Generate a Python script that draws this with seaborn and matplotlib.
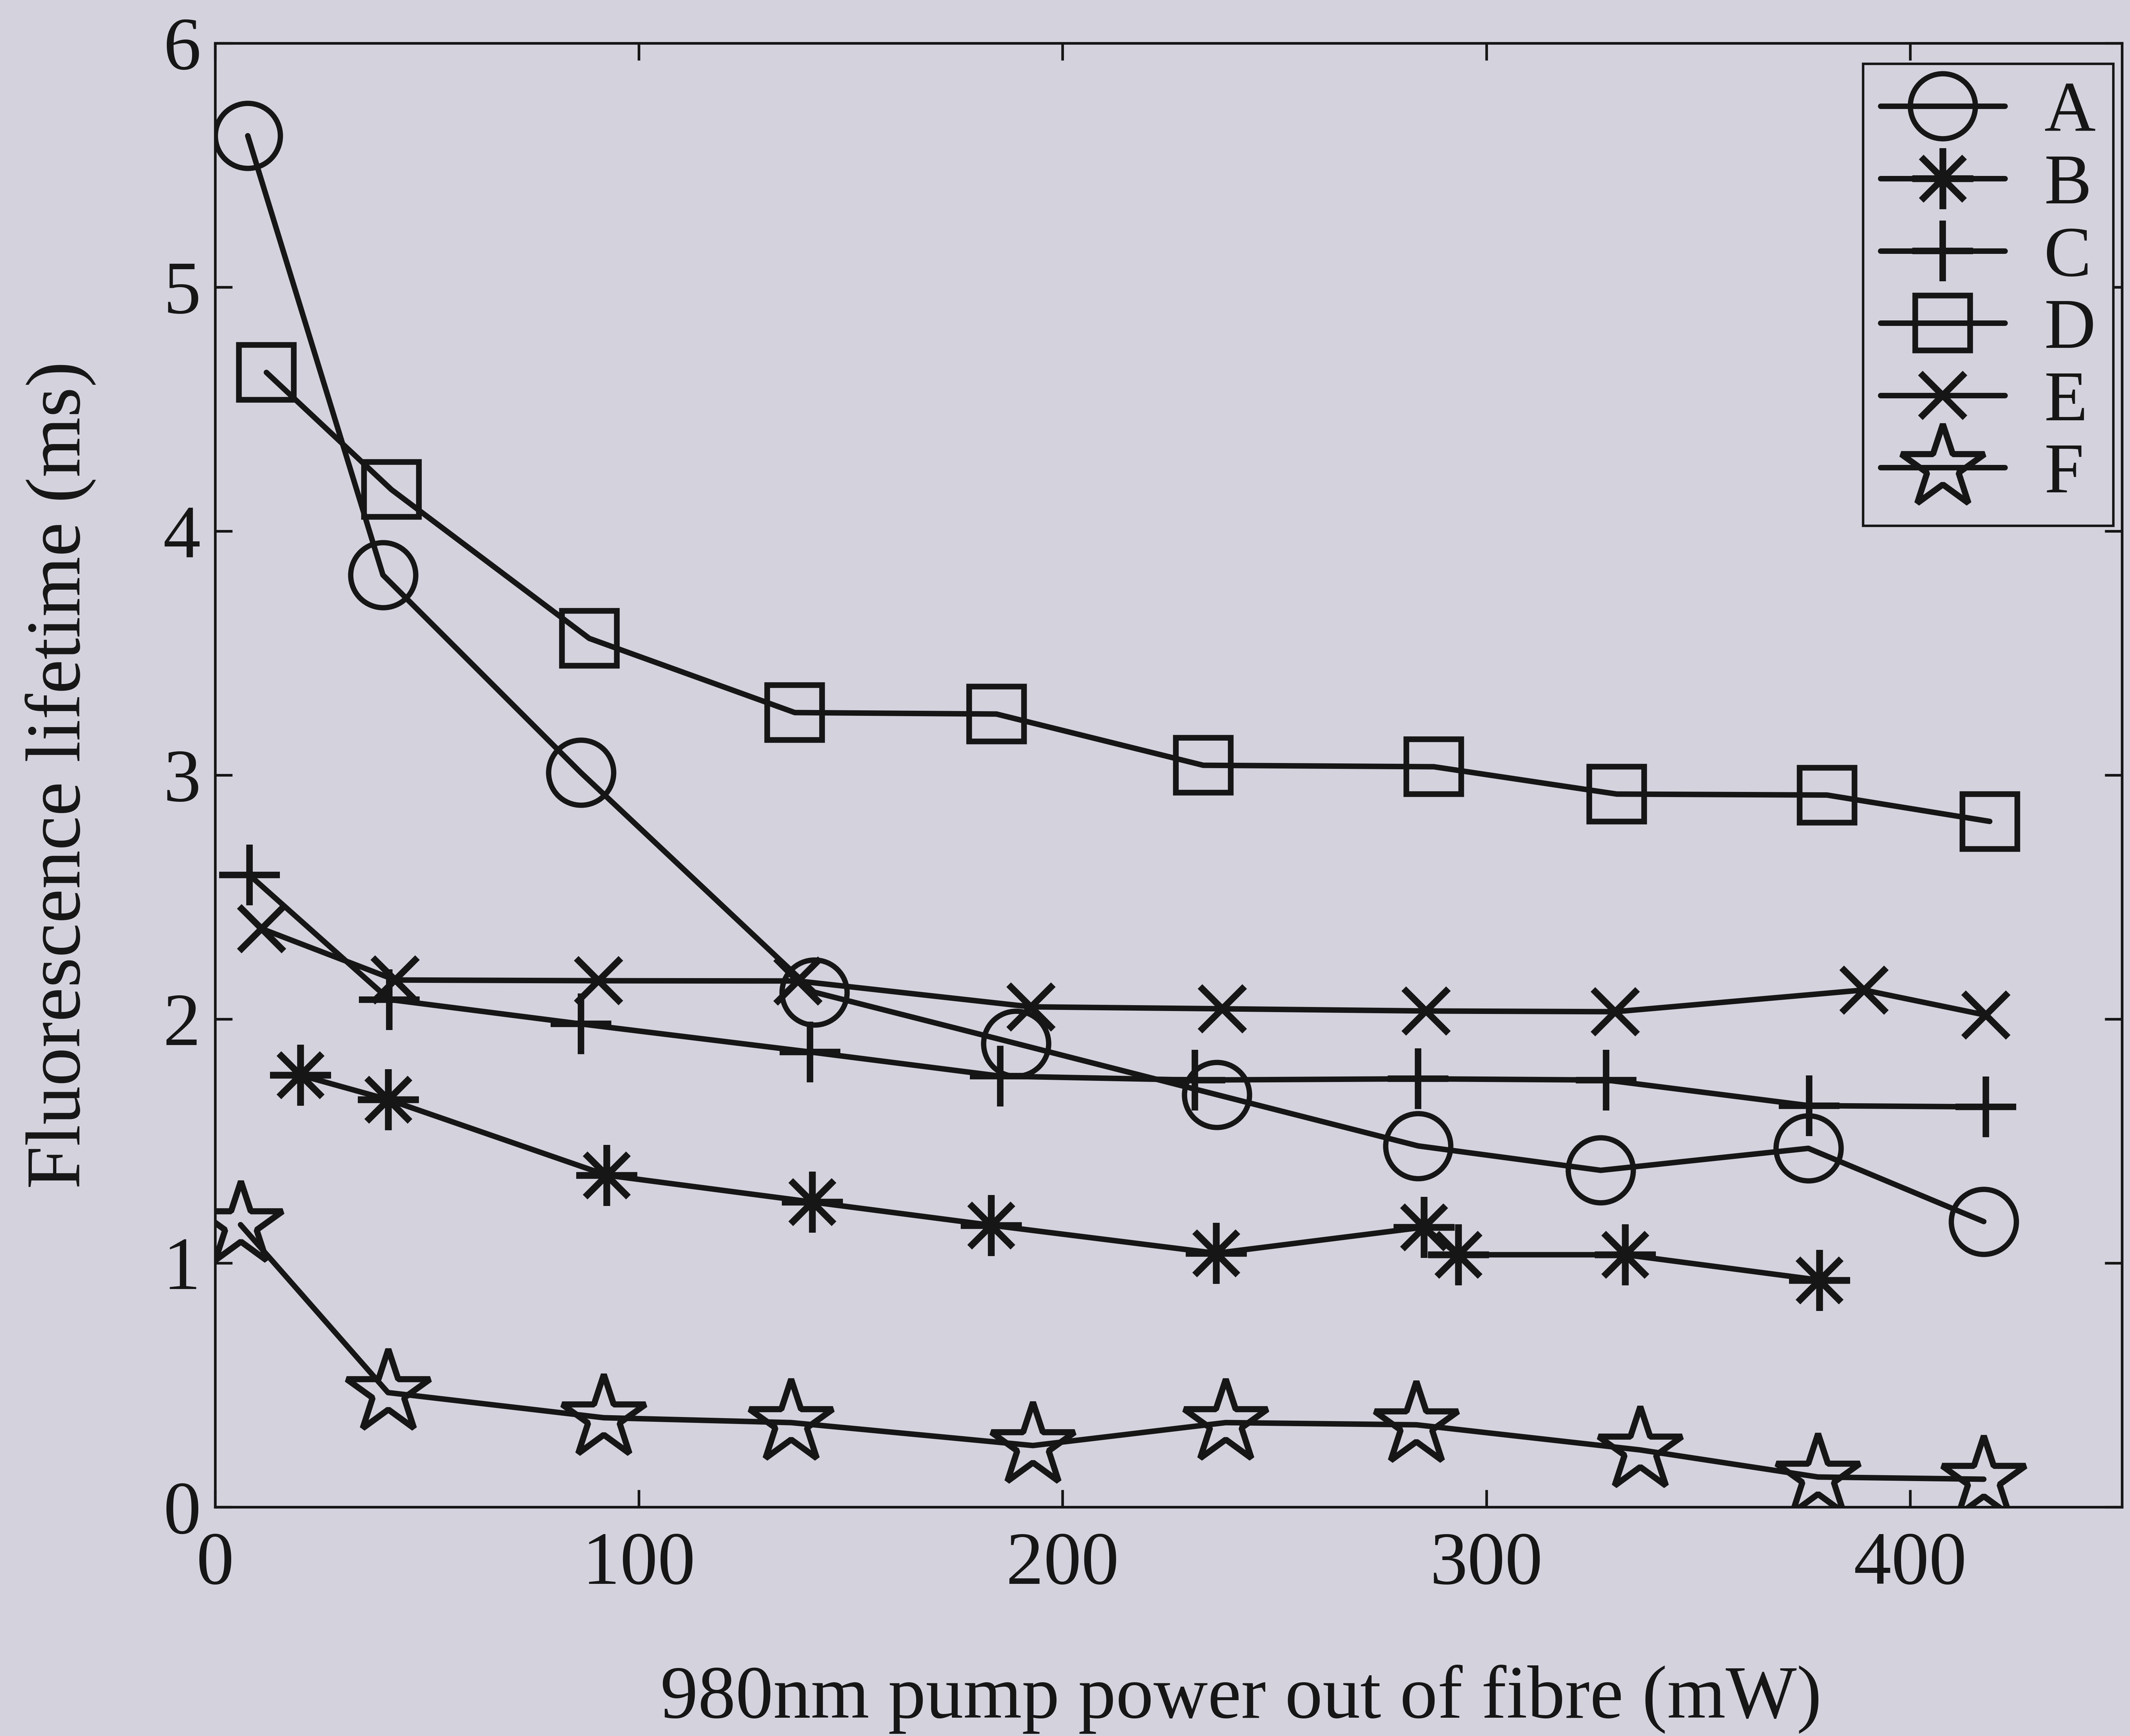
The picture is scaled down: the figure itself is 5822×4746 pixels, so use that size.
import matplotlib
matplotlib.use("Agg")
import matplotlib.pyplot as plt
import seaborn as sns

# Pump power (mW) and measured fluorescence lifetime (ms) for each sample
power_A = [7.7, 39.6, 86.3, 141.4, 189.0, 236.4, 283.9, 327.0, 376.0, 417.4]
life_A = [5.62, 3.82, 3.01, 2.11, 1.90, 1.69, 1.48, 1.38, 1.47, 1.17]

power_B = [20.1, 40.8, 92.4, 140.9, 183.1, 236.2, 285.3, 293.4, 332.8, 378.6]
life_B = [1.77, 1.67, 1.36, 1.25, 1.155, 1.04, 1.147, 1.034, 1.034, 0.93]

power_C = [8.1, 41.1, 86.3, 140.4, 185.3, 231.2, 283.9, 328.3, 376.2, 417.9]
life_C = [2.59, 2.08, 1.98, 1.865, 1.766, 1.75, 1.755, 1.75, 1.645, 1.64]

power_D = [12.1, 41.6, 88.3, 136.8, 184.4, 233.2, 287.6, 330.8, 380.4, 418.8]
life_D = [4.65, 4.17, 3.56, 3.256, 3.25, 3.04, 3.034, 2.922, 2.918, 2.81]

power_E = [11.0, 42.5, 90.5, 137.5, 192.5, 237.7, 285.8, 330.4, 389.1, 417.9]
life_E = [2.37, 2.16, 2.157, 2.156, 2.05, 2.042, 2.033, 2.03, 2.119, 2.016]

power_F = [6.0, 40.8, 91.7, 135.9, 193.0, 238.5, 283.5, 336.3, 378.3, 417.4]
life_F = [1.157, 0.469, 0.366, 0.346, 0.252, 0.346, 0.337, 0.234, 0.123, 0.114]

series_names = ["A", "B", "C", "D", "E", "F"]
x_ticks = [0, 100, 200, 300, 400]
y_ticks = [0, 1, 2, 3, 4, 5, 6]

paper = "#d3d2dd"
ink = "#161616"

sns.set_theme(style="ticks")
plt.rcParams["font.family"] = ["Liberation Serif", "DejaVu Serif"]
plt.rcParams["mathtext.fontset"] = "stix"

fig = plt.figure(figsize=(14.555, 11.865), dpi=400, facecolor=paper)
ax = fig.add_axes([0.101, 0.1319, 0.8952, 0.8433])
ax.set_facecolor(paper)

# marker, size, edge width per series
styles = {
    "A": dict(marker="o", ms=32, mew=2.6),
    "B": dict(marker=(8, 2, 0), ms=30, mew=3.2),
    "C": dict(marker="+", ms=30, mew=3.2),
    "D": dict(marker="s", ms=27, mew=2.8),
    "E": dict(marker="x", ms=22, mew=3.2),
    "F": dict(marker="*", ms=43, mew=3.0),
}
data = {
    "A": (power_A, life_A),
    "B": (power_B, life_B),
    "C": (power_C, life_C),
    "D": (power_D, life_D),
    "E": (power_E, life_E),
    "F": (power_F, life_F),
}

for name in series_names:
    xs, ys = data[name]
    st = styles[name]
    sns.lineplot(
        x=xs, y=ys, ax=ax, estimator=None, errorbar=None, sort=False,
        color=ink, linewidth=2.7, label=name,
        marker=st["marker"], markersize=st["ms"],
        markeredgewidth=st["mew"], markeredgecolor=ink,
        markerfacecolor="none", fillstyle="none",
    )

ax.set_xlim(0, 450)
ax.set_ylim(0, 6)
ax.set_xticks(x_ticks)
ax.set_yticks(y_ticks)
ax.set_xticklabels([str(v) for v in x_ticks])
ax.set_yticklabels([str(v) for v in y_ticks])

for side in ["left", "right", "top", "bottom"]:
    ax.spines[side].set_visible(True)
    ax.spines[side].set_color(ink)
    ax.spines[side].set_linewidth(1.3)

ax.tick_params(axis="both", which="major", direction="in", length=8.5,
               width=1.3, color=ink, labelcolor=ink, labelsize=37,
               top=True, right=True)
ax.tick_params(axis="x", pad=12)
ax.tick_params(axis="y", pad=7)

ax.set_xlabel("980nm pump power out of fibre (mW)", fontsize=37,
              color=ink, labelpad=32, x=0.538)
ax.set_ylabel("Fluorescence lifetime (ms)", fontsize=38,
              color=ink, labelpad=33)

leg = ax.legend(loc="upper right", bbox_to_anchor=(0.9955, 0.986),
                borderaxespad=0, fontsize=35, frameon=True, fancybox=False,
                shadow=False, handlelength=1.75, handletextpad=0.55,
                labelspacing=0.1, borderpad=0.25, facecolor=paper,
                edgecolor=ink, framealpha=1)
leg.get_frame().set_linewidth(1.2)
for t in leg.get_texts():
    t.set_color(ink)

fig.savefig("out.png", dpi=400, facecolor=paper)
